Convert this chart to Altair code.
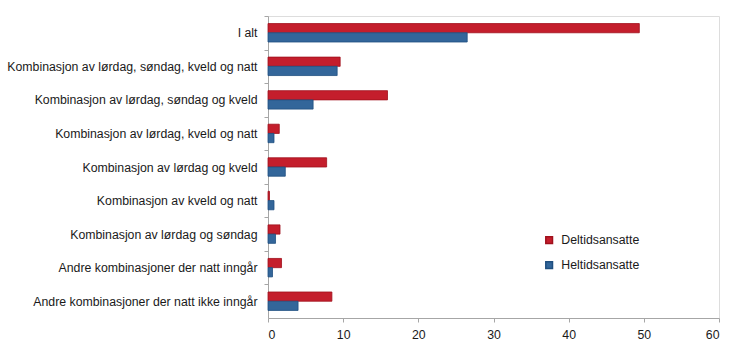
import altair as alt
import pandas as pd

categories = [
    "I alt",
    "Kombinasjon av lørdag, søndag, kveld og natt",
    "Kombinasjon av lørdag, søndag og kveld",
    "Kombinasjon av lørdag, kveld og natt",
    "Kombinasjon av lørdag og kveld",
    "Kombinasjon av kveld og natt",
    "Kombinasjon av lørdag og søndag",
    "Andre kombinasjoner der natt inngår",
    "Andre kombinasjoner der natt ikke inngår",
]
deltid = [49.4, 9.6, 15.9, 1.5, 7.8, 0.2, 1.6, 1.8, 8.5]
heltid = [26.5, 9.2, 6.0, 0.8, 2.3, 0.8, 1.0, 0.6, 4.0]
series = ["Deltidsansatte", "Heltidsansatte"]
colors = ["#C41E2C", "#33669A"]
strokes = ["#A0101C", "#1F4F80"]
x_ticks = [0, 10, 20, 30, 40, 50, 60]

rows = []
for c, d, h in zip(categories, deltid, heltid):
    rows.append({"kategori": c, "serie": series[0], "verdi": d})
    rows.append({"kategori": c, "serie": series[1], "verdi": h})
df = pd.DataFrame(rows)

FONT = "Liberation Sans"
step = 302 / 9
half_gap = 0.225 * step

chart = alt.Chart(df).mark_bar(strokeWidth=0.8).encode(
    x=alt.X("verdi:Q",
            scale=alt.Scale(domain=[0, 60], nice=False),
            axis=alt.Axis(values=x_ticks, title=None, grid=False,
                          domainColor="#A6A6A6", tickColor="#A6A6A6",
                          tickSize=4, labelFontSize=12.3, labelFont=FONT,
                          labelColor="#1a1a1a", labelPadding=6)),
    y=alt.Y("kategori:N", sort=categories,
            scale=alt.Scale(paddingInner=0.45, paddingOuter=0.225),
            axis=alt.Axis(title=None, grid=False, bandPosition=0,
                          tickOffset=-half_gap, labelOffset=half_gap,
                          domainColor="#A6A6A6", tickColor="#A6A6A6",
                          tickSize=4, labelFontSize=12.3, labelFont=FONT,
                          labelColor="#1a1a1a", labelPadding=7,
                          labelLimit=400, minExtent=263, maxExtent=263)),
    yOffset=alt.YOffset("serie:N", sort=series),
    color=alt.Color("serie:N", sort=series,
                    scale=alt.Scale(domain=series, range=colors),
                    legend=alt.Legend(title=None, orient="none",
                                      legendX=275, legendY=218,
                                      symbolType="square", symbolSize=45,
                                      labelFontSize=12.3, labelFont=FONT,
                                      labelColor="#1a1a1a", rowPadding=11,
                                      labelOffset=6)),
    stroke=alt.Stroke("serie:N", sort=series,
                      scale=alt.Scale(domain=series, range=strokes),
                      legend=None),
).properties(
    width=451,
    height=302,
    padding={"left": 5, "top": 15, "right": 5, "bottom": 5},
).configure_view(
    stroke="#A6A6A6", strokeWidth=1
).configure(background="white")

chart.save("out.html", embed_options={"renderer": "svg", "actions": False})
